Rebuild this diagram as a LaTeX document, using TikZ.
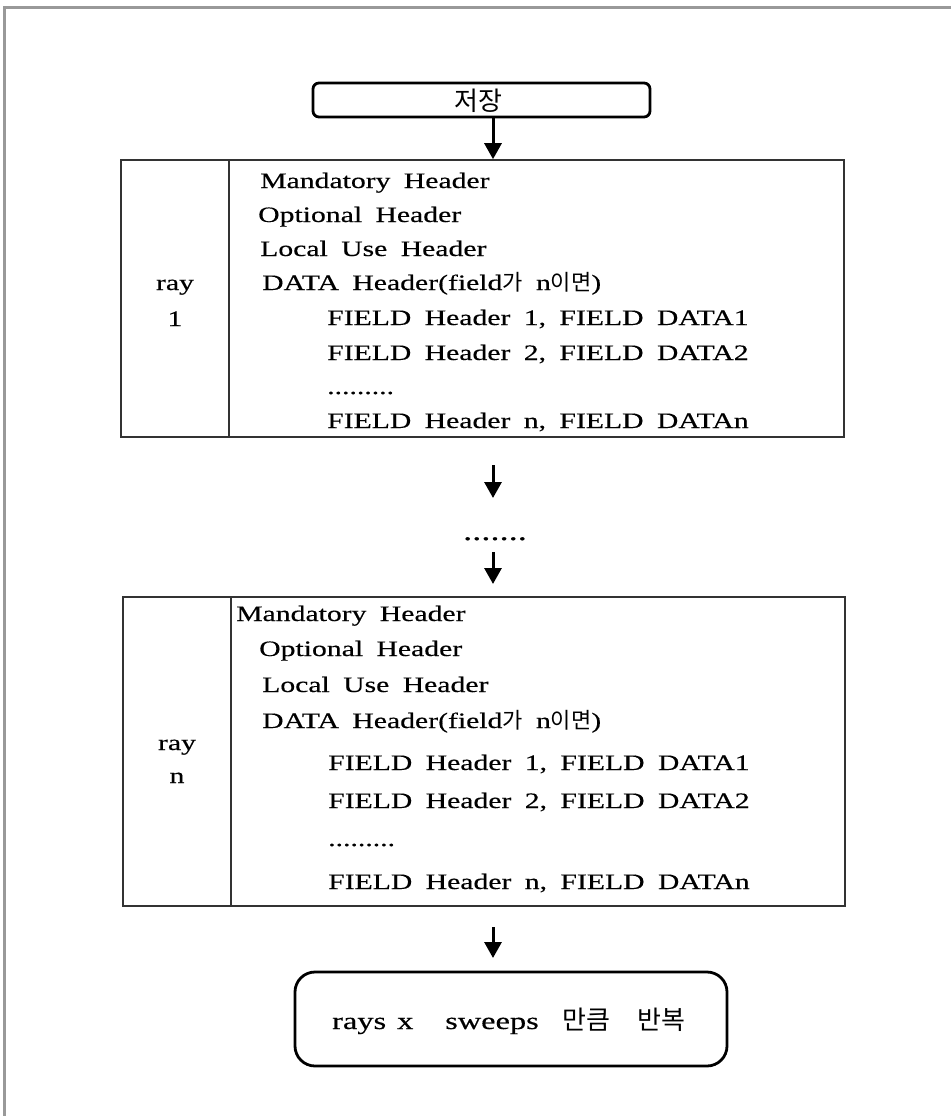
\documentclass[tikz,border=0pt]{standalone}
\usepackage{fontspec}
\setmainfont{Liberation Serif}[FakeStretch=1.35, WordSpace=1.8, FakeBold=0.4]
\newfontfamily\kr{Noto Sans CJK KR}
\usetikzlibrary{arrows.meta}
\definecolor{framegray}{HTML}{999999}
\definecolor{boxgray}{HTML}{333333}
\begin{document}
\begin{tikzpicture}[x=1pt,y=-1pt,
  frameline/.style={draw=framegray, line width=3pt},
  boxline/.style={draw=boxgray, line width=1.6pt, rectangle, inner sep=0pt},
  rbox/.style={draw=black, line width=2.8pt, rectangle, inner sep=0pt},
  arr/.style={line width=3pt, -{Triangle[length=16pt,width=17pt]}},
  txt/.style={anchor=base west, inner sep=0pt, font=\fontsize{22}{26}\selectfont},
  lbl/.style={anchor=base, inner sep=0pt, font=\fontsize{22}{26}\selectfont}]
\useasboundingbox (0,0) rectangle (951,1116);
\draw[frameline] (4.5,1116) -- (4.5,8) -- (951,8);

% start box
\node[rbox, rounded corners=6pt, minimum width=337pt, minimum height=34pt] (start) at (481.5,100) {};
\node[inner sep=0pt, font=\kr\fontsize{26}{28}\selectfont] (starttxt) at (478,101) {저장};

% ray 1 box
\node[boxline, minimum width=723pt, minimum height=277pt] (box1) at (482.5,298.5) {};
\draw[boxline] ([xshift=109pt]box1.north west) -- ([xshift=109pt]box1.south west);
\node[lbl] (r1a) at (175,290) {ray};
\node[lbl] (r1b) at (175,326) {1};
\node[txt] (b1l1) at (260,188) {Mandatory Header};
\node[txt] (b1l2) at (258,222) {Optional Header};
\node[txt] (b1l3) at (260,256) {Local Use Header};
\node[txt] (b1l4) at (262,290) {DATA Header(field{\kr 가} n{\kr 이면})};
\node[txt] (b1l5) at (327,325) {FIELD Header 1, FIELD DATA1};
\node[txt] (b1l6) at (327,360) {FIELD Header 2, FIELD DATA2};
\node[txt] (b1l7) at (327,394) {.........};
\node[txt] (b1l8) at (327,428) {FIELD Header n, FIELD DATAn};

% middle
\coordinate (ax) at (493,0);
\coordinate (m1s) at (493,465);
\coordinate (m1e) at (493,498);
\node[anchor=base, inner sep=0pt, font=\fontsize{27}{30}\selectfont] (dots) at (495,540) {.......};
\coordinate (m2s) at (493,552);
\coordinate (m2e) at (493,584);

% ray n box
\node[boxline, minimum width=722pt, minimum height=309pt] (box2) at (484,751.5) {};
\draw[boxline] ([xshift=109pt]box2.north west) -- ([xshift=109pt]box2.south west);
\node[lbl] (rna) at (177,750) {ray};
\node[lbl] (rnb) at (177,783) {n};
\node[txt] (b2l1) at (236,621) {Mandatory Header};
\node[txt] (b2l2) at (259,656) {Optional Header};
\node[txt] (b2l3) at (262,692) {Local Use Header};
\node[txt] (b2l4) at (262,728) {DATA Header(field{\kr 가} n{\kr 이면})};
\node[txt] (b2l5) at (328,770) {FIELD Header 1, FIELD DATA1};
\node[txt] (b2l6) at (328,808) {FIELD Header 2, FIELD DATA2};
\node[txt] (b2l7) at (328,846) {.........};
\node[txt] (b2l8) at (328,889) {FIELD Header n, FIELD DATAn};

% end box
\coordinate (m3s) at (493,927);
\coordinate (m3e) at (493,958);
\node[rbox, rounded corners=20pt, minimum width=432pt, minimum height=94pt] (endbox) at (511,1019) {};
\node[anchor=base west, inner sep=0pt, font=\fontsize{24}{28}\selectfont] (endtxt) at (332,1029)
  {\makebox[65pt][l]{rays}\makebox[48pt][l]{x}\makebox[117pt][l]{sweeps}\makebox[75pt][l]{\kr\fontsize{26}{28}\selectfont 만큼}{\kr\fontsize{26}{28}\selectfont 반복}};

% arrows
\draw[arr] (ax |- start.south) -- (ax |- box1.north);
\draw[arr] (m1s) -- (m1e);
\draw[arr] (m2s) -- (m2e);
\draw[arr] (m3s) -- (m3e);
\end{tikzpicture}
\end{document}
